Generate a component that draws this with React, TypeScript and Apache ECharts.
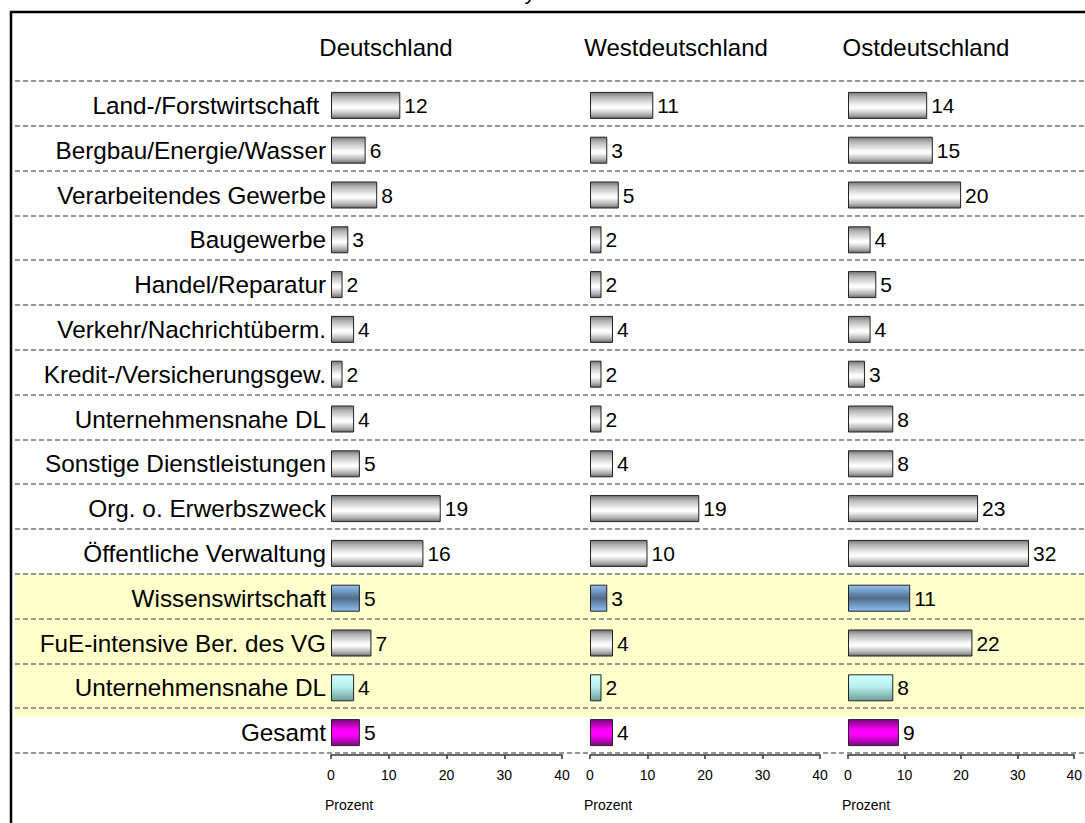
import React, { useEffect, useRef } from "react";
import * as echarts from "echarts";

const categories = [
  "Land-/Forstwirtschaft\u00a0",
  "Bergbau/Energie/Wasser",
  "Verarbeitendes Gewerbe",
  "Baugewerbe",
  "Handel/Reparatur",
  "Verkehr/Nachrichtüberm.",
  "Kredit-/Versicherungsgew.",
  "Unternehmensnahe DL",
  "Sonstige Dienstleistungen",
  "Org. o. Erwerbszweck",
  "Öffentliche Verwaltung",
  "Wissenswirtschaft",
  "FuE-intensive Ber. des VG",
  "Unternehmensnahe DL",
  "Gesamt",
];
const deutschland = [12, 6, 8, 3, 2, 4, 2, 4, 5, 19, 16, 5, 7, 4, 5];
const westdeutschland = [11, 3, 5, 2, 2, 4, 2, 2, 4, 19, 10, 3, 4, 2, 4];
const ostdeutschland = [14, 15, 20, 4, 5, 4, 3, 8, 8, 23, 32, 11, 22, 8, 9];
const panelTitles = ["Deutschland", "Westdeutschland", "Ostdeutschland"];
const barKinds = [
  "grey", "grey", "grey", "grey", "grey", "grey", "grey", "grey", "grey", "grey", "grey",
  "blue", "grey", "cyan", "magenta",
];
const axisMin = 0;
const axisMax = 40;
const axisInterval = 10;
const axisName = "Prozent";
const highlightFrom = 11;
const highlightTo = 14.2;

const FONT = '"Liberation Sans", Arial, Helvetica, sans-serif';

const grad = (stops: [number, string][]) =>
  new echarts.graphic.LinearGradient(0, 0, 0, 1, stops.map(([offset, color]) => ({ offset, color })));

const gradients: Record<string, [number, string][]> = {
  grey: [
    [0, "#767676"],
    [0.18, "#b4b4b4"],
    [0.5, "#f6f6f6"],
    [0.6, "#ffffff"],
    [0.85, "#b2b2b2"],
    [1, "#6c6c6c"],
  ],
  blue: [
    [0, "#92c4f4"],
    [0.5, "#4f6b89"],
    [1, "#8fc0f0"],
  ],
  cyan: [
    [0, "#d4ffff"],
    [0.45, "#b6f0ec"],
    [1, "#6e9e9a"],
  ],
  magenta: [
    [0, "#7a0a7a"],
    [0.4, "#ff00ff"],
    [0.6, "#ff00ff"],
    [1, "#7a0a7a"],
  ],
};

const panelLefts = [331, 590, 848];
const panelWidths = [231, 230, 231];
const titleCenters = [386, 676, 926];
const GRID_TOP = 83;
const GRID_H = 672;

export default function App() {
  const ref = useRef<HTMLDivElement>(null);
  useEffect(() => {
    if (!ref.current) return;
    const chart = echarts.init(ref.current, undefined, { renderer: "svg" });
    const panels = [deutschland, westdeutschland, ostdeutschland];
    const catIdx = categories.map((_, i) => String(i));

    const grids: any[] = panelLefts.map((l, i) => ({
      left: l,
      top: GRID_TOP,
      width: panelWidths[i],
      height: GRID_H,
    }));
    grids.push({ left: 15, right: 0, top: 81, height: 672 });

    const xAxes: any[] = panelLefts.map((_, i) => ({
      type: "value",
      gridIndex: i,
      min: axisMin,
      max: axisMax,
      interval: axisInterval,
      axisLine: { show: true, lineStyle: { color: "#333", width: 1.5 } },
      axisTick: { show: true, length: 4, lineStyle: { color: "#333", width: 1.5 } },
      axisLabel: { fontSize: 14, color: "#000", fontFamily: FONT, margin: 13 },
      splitLine: { show: false },
    }));
    xAxes.push({ type: "value", gridIndex: 3, min: 0, max: 1, show: false });

    const yAxes: any[] = panelLefts.map((_, i) => ({
      type: "category",
      gridIndex: i,
      data: catIdx,
      inverse: true,
      z: 5,
      axisLine: { show: false },
      axisTick: { show: false },
      splitLine: { show: false },
      axisLabel:
        i === 0
          ? {
              show: true,
              fontSize: 24.3,
              color: "#000",
              fontFamily: FONT,
              margin: 5,
              formatter: (v: string) => categories[Number(v)],
            }
          : { show: false },
    }));
    yAxes.push({
      type: "value",
      gridIndex: 3,
      inverse: true,
      min: 0,
      max: categories.length,
      interval: 1,
      z: 1,
      axisLine: { show: false },
      axisTick: { show: false },
      axisLabel: { show: false },
      splitLine: { show: true, lineStyle: { color: "#767676", width: 1.6, type: [5, 3] } },
    });

    const series: any[] = panels.map((vals, i) => ({
      type: "bar",
      xAxisIndex: i,
      yAxisIndex: i,
      barWidth: 27,
      z: 3,
      data: vals.map((v, k) => ({
        value: v,
        itemStyle: { color: grad(gradients[barKinds[k]]), borderColor: "#222", borderWidth: 1 },
      })),
      label: {
        show: true,
        position: "right",
        distance: 4,
        fontSize: 21,
        color: "#000",
        fontFamily: FONT,
      },
    }));
    series.push({
      type: "line",
      xAxisIndex: 3,
      yAxisIndex: 3,
      z: -1,
      data: [[0, -1]],
      symbol: "none",
      silent: true,
      lineStyle: { width: 0, opacity: 0 },
      markArea: {
        silent: true,
        z: -1,
        itemStyle: { color: "#ffffcc" },
        data: [[{ yAxis: highlightFrom }, { yAxis: highlightTo }]],
      },
    });

    const graphic: any[] = [
      {
        type: "polyline",
        shape: { points: [[11, 823], [11, 12], [1085, 12]] },
        style: { stroke: "#000", lineWidth: 2.5, fill: null },
        z: 10,
      },
      {
        type: "text",
        x: 530,
        y: -9,
        style: { text: "y", fontSize: 22, fontFamily: FONT, fill: "#000", textAlign: "center", textVerticalAlign: "middle" },
      },
    ];
    panelTitles.forEach((t, i) => {
      graphic.push({
        type: "text",
        x: titleCenters[i],
        y: 47,
        style: { text: t, fontSize: 24, fontFamily: FONT, fill: "#000", textAlign: "center", textVerticalAlign: "middle" },
      });
      graphic.push({
        type: "text",
        x: panelLefts[i] - 6,
        y: 805,
        style: { text: axisName, fontSize: 14, fontFamily: FONT, fill: "#000", textAlign: "left", textVerticalAlign: "middle" },
      });
    });

    chart.setOption({
      animation: false,
      backgroundColor: "#fff",
      grid: grids,
      xAxis: xAxes,
      yAxis: yAxes,
      series,
      graphic,
    });
    return () => chart.dispose();
  }, []);
  return (
    <div
      ref={ref}
      style={{ position: "fixed", left: 0, top: 0, width: 1085, height: 823 }}
    />
  );
}
